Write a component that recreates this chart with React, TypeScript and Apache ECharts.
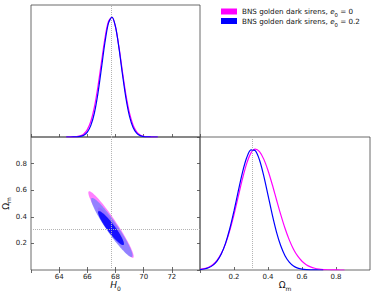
import React, { useEffect, useRef } from "react";
import * as echarts from "echarts";

// ---------- data ----------
const h0Grid = [64.5, 64.75, 65.0, 65.25, 65.5, 65.75, 66.0, 66.25, 66.5, 66.75, 67.0, 67.25, 67.5, 67.75, 68.0, 68.25, 68.5, 68.75, 69.0, 69.25, 69.5, 69.75, 70.0, 70.25, 70.5, 70.75, 71.0];
const h0Magenta = [0.00005, 0.0002, 0.0009, 0.0031, 0.0094, 0.0256, 0.0616, 0.1316, 0.249, 0.419, 0.623, 0.823, 0.962, 0.998, 0.917, 0.747, 0.539, 0.345, 0.196, 0.0986, 0.0439, 0.0174, 0.0061, 0.0019, 0.0005, 0.0001, 0.0];
const h0Blue = [0.0, 0.0001, 0.0003, 0.0014, 0.0049, 0.0151, 0.0408, 0.0966, 0.2, 0.362, 0.571, 0.788, 0.949, 0.999, 0.919, 0.738, 0.518, 0.318, 0.17, 0.0796, 0.0325, 0.0116, 0.0036, 0.001, 0.0002, 0.0, 0.0];

const omGrid = [0.0, 0.025, 0.05, 0.075, 0.1, 0.125, 0.15, 0.175, 0.2, 0.225, 0.25, 0.275, 0.3, 0.325, 0.35, 0.375, 0.4, 0.425, 0.45, 0.475, 0.5, 0.525, 0.55, 0.575, 0.6, 0.625, 0.65, 0.675, 0.7, 0.725, 0.75, 0.775, 0.8, 0.825, 0.85];
const omMagenta = [0.0051, 0.0111, 0.0228, 0.0439, 0.0796, 0.1353, 0.216, 0.325, 0.458, 0.607, 0.755, 0.882, 0.969, 1.0, 0.979, 0.917, 0.823, 0.707, 0.581, 0.458, 0.345, 0.249, 0.172, 0.114, 0.0724, 0.0439, 0.0256, 0.0142, 0.0076, 0.0039, 0.0019, 0.0009, 0.0004, 0.0002, 0.0001];
const omBlue = [0.0034, 0.0082, 0.0184, 0.0383, 0.0738, 0.1324, 0.2204, 0.341, 0.489, 0.652, 0.808, 0.93, 0.994, 0.987, 0.91, 0.779, 0.62, 0.458, 0.314, 0.2, 0.1186, 0.0652, 0.0333, 0.0158, 0.007, 0.0028, 0.0011, 0.0004, 0.0001, 0.0];

// 2D contours: [centre H0, centre Om, half-extent H0, half-extent Om, correlation]
const contourMagenta = [
  [67.68, 0.342, 1.61, 0.25, -0.957],
  [67.66, 0.335, 0.92, 0.135, -0.92],
];
const contourBlue = [
  [67.74, 0.32, 1.47, 0.222, -0.947],
  [67.68, 0.315, 0.92, 0.128, -0.924],
];

const fiducialH0 = 67.7;
const fiducialOm = 0.31;

const h0Ticks = [62, 74, 2];
const omTicks = [0, 1, 0.2];

const legendNames = ["0", "0.2"];

// ---------- chart ----------
const MAGENTA = "#ff00ff";
const BLUE = "#0000ff";
const FONT = "DejaVu Sans";
const FRAME = "#444";

const zip = (xs: number[], ys: number[]) => ys.map((y, i) => [xs[i], y]);

const ellipseRender = (fill: string, opacity: number) => (params: any, api: any) => {
  const cx = api.value(0), cy = api.value(1), ax = api.value(2), ay = api.value(3), rho = api.value(4);
  const s = Math.sqrt(1 - rho * rho);
  const pts: number[][] = [];
  const n = 120;
  for (let i = 0; i < n; i++) {
    const t = (2 * Math.PI * i) / n;
    pts.push(api.coord([cx + ax * Math.cos(t), cy + ay * (rho * Math.cos(t) + s * Math.sin(t))]));
  }
  return { type: "polygon", shape: { points: pts }, style: { fill, stroke: "none", opacity } };
};

const tick = { show: true, inside: true, length: 3, lineStyle: { color: FRAME, width: 0.8 } };
const label = { fontFamily: FONT, fontSize: 7, color: "#222" };
const nameRich = {
  n: { fontFamily: FONT, fontSize: 9, color: "#111", lineHeight: 12 },
  i: { fontFamily: FONT, fontSize: 9, fontStyle: "italic", color: "#111", lineHeight: 12 },
  s: { fontFamily: FONT, fontSize: 6, color: "#111", lineHeight: 7, verticalAlign: "bottom" },
};
const refLine = { color: "#b4b4b4", width: 1, type: "dotted" as const };

export default function App() {
  const ref = useRef<HTMLDivElement>(null);
  useEffect(() => {
    document.body.style.margin = "0";
    if (!ref.current) return;
    const chart = echarts.init(ref.current, undefined, { renderer: "svg" });
    const legendLabel = (name: string) =>
      `{a|BNS golden dark sirens, }{e|e}{s|0}{a| = ${name}}`;
    const option: any = {
      animation: false,
      backgroundColor: "#fff",
      grid: [
        { left: 31, top: 5, width: 169, height: 132, show: true, borderColor: FRAME, borderWidth: 0.8 },
        { left: 31, top: 137, width: 169, height: 133, show: true, borderColor: FRAME, borderWidth: 0.8 },
        { left: 200, top: 137, width: 170, height: 133, show: true, borderColor: FRAME, borderWidth: 0.8 },
      ],
      legend: {
        orient: "vertical",
        left: 216,
        top: 3,
        itemWidth: 16,
        itemHeight: 6,
        itemGap: 0,
        icon: "rect",
        data: legendNames,
        formatter: legendLabel,
        textStyle: {
          fontFamily: FONT,
          fontSize: 7.2,
          color: "#111",
          rich: {
            a: { fontFamily: FONT, fontSize: 7.2, color: "#111", lineHeight: 12 },
            e: { fontFamily: FONT, fontSize: 7.2, fontStyle: "italic", color: "#111", lineHeight: 12 },
            s: { fontFamily: FONT, fontSize: 5.3, color: "#111", lineHeight: 7, verticalAlign: "bottom" },
          },
        },
      },
      xAxis: [
        { gridIndex: 0, type: "value", min: h0Ticks[0], max: h0Ticks[1], interval: h0Ticks[2], axisLine: { show: false }, axisTick: tick, axisLabel: { show: false }, splitLine: { show: false } },
        {
          gridIndex: 1, type: "value", min: h0Ticks[0], max: h0Ticks[1], interval: h0Ticks[2],
          axisLine: { show: false }, axisTick: tick, splitLine: { show: false },
          axisLabel: { ...label, margin: 3, showMinLabel: false, showMaxLabel: false },
          name: "{i|H}{s|0}", nameLocation: "middle", nameGap: 9, nameTextStyle: { rich: nameRich },
        },
        { gridIndex: 1, type: "value", position: "top", min: h0Ticks[0], max: h0Ticks[1], interval: h0Ticks[2], axisLine: { show: false }, axisTick: tick, axisLabel: { show: false }, splitLine: { show: false } },
        {
          gridIndex: 2, type: "value", min: omTicks[0], max: omTicks[1], interval: omTicks[2],
          axisLine: { show: false }, axisTick: tick, splitLine: { show: false },
          axisLabel: { ...label, margin: 3, showMinLabel: false, showMaxLabel: false },
          name: "{n|Ω}{s|m}", nameLocation: "middle", nameGap: 9, nameTextStyle: { rich: nameRich },
        },
      ],
      yAxis: [
        { gridIndex: 0, type: "value", min: 0, max: 1.1, show: false },
        {
          gridIndex: 1, type: "value", min: omTicks[0], max: omTicks[1], interval: omTicks[2],
          axisLine: { show: false }, axisTick: tick, splitLine: { show: false },
          axisLabel: { ...label, margin: 4, showMinLabel: false, showMaxLabel: false },
          name: "{n|Ω}{s|m}", nameLocation: "middle", nameGap: 8, nameRotate: 90, nameTextStyle: { rich: nameRich },
        },
        { gridIndex: 1, type: "value", position: "right", min: omTicks[0], max: omTicks[1], interval: omTicks[2], axisLine: { show: false }, axisTick: tick, axisLabel: { show: false }, splitLine: { show: false } },
        { gridIndex: 2, type: "value", min: 0, max: 1.1, show: false },
      ],
      series: [
        // top-left: H0 marginal
        { name: legendNames[0], type: "line", xAxisIndex: 0, yAxisIndex: 0, data: zip(h0Grid, h0Magenta), smooth: 0.3, showSymbol: false, lineStyle: { color: MAGENTA, width: 1.2 }, itemStyle: { color: MAGENTA }, z: 3 },
        { name: legendNames[1], type: "line", xAxisIndex: 0, yAxisIndex: 0, data: zip(h0Grid, h0Blue), smooth: 0.3, showSymbol: false, lineStyle: { color: BLUE, width: 1.2 }, itemStyle: { color: BLUE }, z: 4,
          markLine: { silent: true, symbol: "none", label: { show: false }, lineStyle: refLine, data: [{ xAxis: fiducialH0 }] } },
        // bottom-right: Om marginal
        { name: legendNames[0], type: "line", xAxisIndex: 3, yAxisIndex: 3, data: zip(omGrid, omMagenta), smooth: 0.3, showSymbol: false, lineStyle: { color: MAGENTA, width: 1.2 }, itemStyle: { color: MAGENTA }, z: 3 },
        { name: legendNames[1], type: "line", xAxisIndex: 3, yAxisIndex: 3, data: zip(omGrid, omBlue), smooth: 0.3, showSymbol: false, lineStyle: { color: BLUE, width: 1.2 }, itemStyle: { color: BLUE }, z: 4,
          markLine: { silent: true, symbol: "none", label: { show: false }, lineStyle: refLine, data: [{ xAxis: fiducialOm }] } },
        // bottom-left: 2D contours
        { name: "m2", type: "custom", xAxisIndex: 1, yAxisIndex: 1, data: [contourMagenta[0]], encode: { x: 0, y: 1 }, renderItem: ellipseRender("#ff80ff", 1), z: 2 },
        { name: "m1", type: "custom", xAxisIndex: 1, yAxisIndex: 1, data: [contourMagenta[1]], encode: { x: 0, y: 1 }, renderItem: ellipseRender("#ff00ff", 1), z: 2 },
        { name: "b2", type: "custom", xAxisIndex: 1, yAxisIndex: 1, data: [contourBlue[0]], encode: { x: 0, y: 1 }, renderItem: ellipseRender("#8080ff", 0.85), z: 2 },
        { name: "b1", type: "custom", xAxisIndex: 1, yAxisIndex: 1, data: [contourBlue[1]], encode: { x: 0, y: 1 }, renderItem: ellipseRender("#0000ff", 0.85), z: 2 },
        { name: "ref", type: "line", xAxisIndex: 1, yAxisIndex: 1, data: [], z: 5,
          markLine: { silent: true, symbol: "none", label: { show: false }, lineStyle: refLine, data: [{ xAxis: fiducialH0 }, { yAxis: fiducialOm }] } },
      ],
    };
    chart.setOption(option);
    return () => chart.dispose();
  }, []);
  return <div ref={ref} style={{ width: 374, height: 298 }} />;
}
